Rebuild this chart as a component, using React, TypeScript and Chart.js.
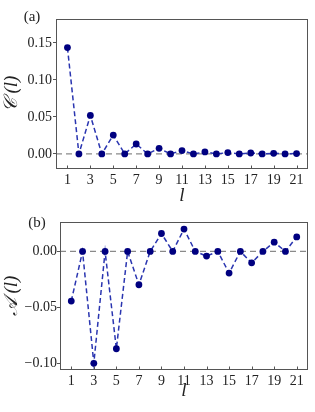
import React, { useEffect, useRef } from "react";
import { Chart, registerables } from "chart.js";
Chart.register(...registerables);

const lValues = [1, 2, 3, 4, 5, 6, 7, 8, 9, 10, 11, 12, 13, 14, 15, 16, 17, 18, 19, 20, 21];
const cValues = [0.1437, 0, 0.052, 0, 0.0255, 0, 0.0134, 0, 0.0075, 0, 0.0045, 0, 0.0027, 0, 0.0018, 0, 0.0012, 0, 0.0008, 0, 0.0005];
const aValues = [-0.0444, 0, -0.1, 0, -0.087, 0, -0.0298, 0, 0.016, 0, 0.02, 0, -0.0042, 0, -0.0194, 0, -0.0102, 0, 0.0083, 0, 0.013];
const xTicks = [1, 3, 5, 7, 9, 11, 13, 15, 17, 19, 21];
const cTicks = [0, 0.05, 0.1, 0.15];
const aTicks = [-0.1, -0.05, 0];
const xRange = [0, 22];
const cRange = [-0.0204, 0.1824];
const aRange = [-0.106, 0.0263];

const SERIF = '"Liberation Serif", "DejaVu Serif", serif';
const FRAME = "#555555";

const fmt = (v: number) => {
  const s = Math.abs(v).toFixed(2);
  return v < -1e-9 ? "\u2212" + s : s;
};

const framePlugin = {
  id: "frame",
  afterDraw(chart: any, _args: any, opts: any) {
    const { ctx, chartArea: a, scales } = chart;
    ctx.save();
    ctx.strokeStyle = FRAME;
    ctx.lineWidth = 1;
    ctx.strokeRect(a.left + 0.5, a.top + 0.5, a.right - a.left - 1, a.bottom - a.top - 1);
    ctx.beginPath();
    for (const t of scales.x.ticks) {
      const px = Math.round(scales.x.getPixelForValue(t.value)) + 0.5;
      ctx.moveTo(px, a.bottom);
      ctx.lineTo(px, a.bottom - 3.5);
    }
    ctx.stroke();
    ctx.font = `15px ${SERIF}`;
    ctx.fillStyle = "#222";
    ctx.textAlign = "center";
    ctx.textBaseline = "middle";
    ctx.fillText(opts.label, opts.lx, opts.ly);
    ctx.restore();
  },
};

type PanelProps = {
  values: number[];
  yTicks: number[];
  yRange: number[];
  yTitle: string;
  label: string;
  lx: number;
  ly: number;
  top: number;
  height: number;
  padTop: number;
  yWidth: number;
  xHeight: number;
  xTitlePad: number;
  tickPad: number;
};

function Panel(p: PanelProps) {
  const ref = useRef<HTMLCanvasElement>(null);
  useEffect(() => {
    if (!ref.current) return;
    const chart = new Chart(ref.current, {
      type: "line",
      data: {
        datasets: [
          {
            data: lValues.map((l, i) => ({ x: l, y: p.values[i] })),
            borderColor: "#2a35b0",
            borderDash: [5, 3],
            borderWidth: 1.5,
            pointRadius: 3.4,
            pointBackgroundColor: "#000080",
            pointBorderWidth: 0,
            tension: 0,
            order: 1,
          },
          {
            data: [
              { x: xRange[0], y: 0 },
              { x: xRange[1], y: 0 },
            ],
            borderColor: "#8a8a8a",
            borderDash: [6, 4],
            borderWidth: 1.3,
            pointRadius: 0,
            order: 2,
          },
        ],
      },
      options: {
        responsive: false,
        animation: false,
        devicePixelRatio: 1,
        layout: { padding: { left: 0, right: 7, top: p.padTop, bottom: 0 } },
        plugins: {
          legend: { display: false },
          tooltip: { enabled: false },
          frame: { label: p.label, lx: p.lx, ly: p.ly },
        } as any,
        scales: {
          x: {
            type: "linear",
            min: xRange[0],
            max: xRange[1],
            grid: { display: false, drawTicks: false },
            border: { display: false },
            ticks: {
              padding: 3,
              color: "#222",
              font: { family: SERIF, size: 14 },
              maxRotation: 0,
              callback: (v: any) => String(v),
            },
            afterBuildTicks: (s: any) => {
              s.ticks = xTicks.map((v) => ({ value: v }));
            },
            afterFit: (s: any) => {
              s.height = p.xHeight;
            },
            title: {
              display: true,
              text: "l",
              color: "#222",
              font: { family: SERIF, size: 19, style: "italic" },
              padding: { top: 0, bottom: p.xTitlePad },
            },
          },
          y: {
            type: "linear",
            min: p.yRange[0],
            max: p.yRange[1],
            grid: { display: true, drawOnChartArea: false, drawTicks: true, tickLength: 3, color: FRAME },
            border: { display: false },
            ticks: {
              padding: p.tickPad,
              color: "#222",
              font: { family: SERIF, size: 14 },
              callback: (v: any) => fmt(Number(v)),
            },
            afterBuildTicks: (s: any) => {
              s.ticks = p.yTicks.map((v) => ({ value: v }));
            },
            afterFit: (s: any) => {
              s.width = p.yWidth;
            },
            title: {
              display: true,
              text: p.yTitle,
              color: "#222",
              font: { family: SERIF, size: 19, style: "italic" },
              padding: { top: 1, bottom: 0 },
            },
          },
        },
      },
      plugins: [framePlugin],
    });
    return () => chart.destroy();
  }, []);
  return (
    <canvas
      ref={ref}
      width={315}
      height={p.height}
      style={{ position: "absolute", left: 0, top: p.top, width: 315, height: p.height }}
    />
  );
}

export default function App() {
  return (
    <div style={{ position: "absolute", left: 0, top: 0, width: 315, height: 412, background: "#fff" }}>
      <Panel
        values={cValues}
        yTicks={cTicks}
        yRange={cRange}
        yTitle={"\u{1D49E} (l)"}
        label="(a)"
        lx={32}
        ly={17}
        top={0}
        height={209}
        padTop={19}
        yWidth={56}
        xHeight={40}
        xTitlePad={2}
        tickPad={1}
      />
      <Panel
        values={aValues}
        yTicks={aTicks}
        yRange={aRange}
        yTitle={"\u{1D49C} (l)"}
        label="(b)"
        lx={37}
        ly={23}
        top={200}
        height={212}
        padTop={22}
        yWidth={60}
        xHeight={42}
        xTitlePad={10}
        tickPad={0}
      />
    </div>
  );
}
